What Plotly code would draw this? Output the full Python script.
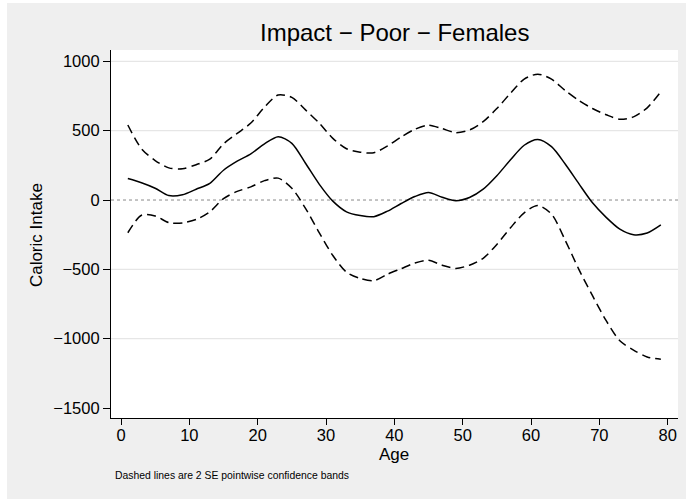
import plotly.graph_objects as go

# ---- data ----
age = [1, 3, 5, 7, 9, 11, 13, 15, 17, 19, 21, 23, 25, 27, 29, 31, 33, 35, 37, 39,
       41, 43, 45, 47, 49, 51, 53, 55, 57, 59, 61, 63, 65, 67, 69, 71, 73, 75, 77, 79]

estimate = [155, 125, 85, 32, 38, 78, 120, 215, 280, 333, 405, 457, 409, 265, 115, -8,
            -85, -112, -120, -80, -25, 25, 55, 20, -5, 18, 78, 175, 290, 395,
            437, 385, 260, 118, -20, -125, -210, -250, -238, -180]

upper = [541, 370, 285, 232, 225, 255, 295, 405, 480, 555, 670, 758, 740, 650, 555, 445,
         370, 345, 341, 390, 455, 510, 540, 515, 486, 505, 565, 660, 770, 872,
         908, 872, 790, 718, 660, 615, 582, 600, 665, 781]

lower = [-236, -110, -115, -163, -165, -140, -85, 10, 62, 95, 140, 158, 85, -60, -235,
         -400, -520, -565, -582, -535, -495, -455, -435, -470, -493, -470, -420, -320,
         -200, -92, -40, -102, -290, -500, -690, -870, -1015, -1082, -1132, -1149]

x_ticks = [0, 10, 20, 30, 40, 50, 60, 70, 80]
y_ticks = [-1500, -1000, -500, 0, 500, 1000]
y_tick_labels = ["\u22121500", "\u22121000", "\u2212500", "0", "500", "1000"]
grid_values = [1000, 500, -500, -1000]

title_text = "Impact \u2212 Poor \u2212 Females"
x_title = "Age"
y_title = "Caloric Intake"
note_text = "Dashed lines are 2 SE pointwise confidence bands"

FONT = "Liberation Sans, Arial, Helvetica, sans-serif"
BG = "#efefef"

fig = go.Figure()

dash_line = dict(color="black", width=1.5, dash="9px,5px", shape="spline", smoothing=0.8)
fig.add_trace(go.Scatter(x=age, y=upper, mode="lines", line=dash_line,
                         hoverinfo="skip", showlegend=False))
fig.add_trace(go.Scatter(x=age, y=lower, mode="lines", line=dash_line,
                         hoverinfo="skip", showlegend=False))
fig.add_trace(go.Scatter(x=age, y=estimate, mode="lines",
                         line=dict(color="black", width=1.5, shape="spline", smoothing=0.8),
                         hoverinfo="skip", showlegend=False))

shapes = []
for g in grid_values:
    shapes.append(dict(type="line", xref="paper", yref="y", x0=0, x1=1, y0=g, y1=g,
                       line=dict(color="#e6e6e6", width=1.2), layer="below"))
shapes.append(dict(type="line", xref="paper", yref="y", x0=0, x1=1, y0=0, y1=0,
                   line=dict(color="#8a8a8a", width=1, dash="dot"), layer="below"))
# thin white border at left and top of the graph region
shapes.append(dict(type="rect", xref="paper", yref="paper", x0=-0.2, x1=-0.1834,
                   y0=-0.25, y1=1.2, line=dict(width=0), fillcolor="white", layer="below"))
shapes.append(dict(type="rect", xref="paper", yref="paper", x0=-0.2, x1=1.05,
                   y0=1.1277, y1=1.2, line=dict(width=0), fillcolor="white", layer="below"))

annotations = [
    dict(text=title_text, xref="paper", yref="paper", x=0.5004, y=1.0462,
         xanchor="center", yanchor="middle", showarrow=False,
         font=dict(family=FONT, size=24, color="black")),
    dict(text=y_title, xref="paper", yref="paper", x=-0.1323, y=0.497,
         xanchor="center", yanchor="middle", showarrow=False, textangle=-90,
         font=dict(family=FONT, size=17, color="black")),
    dict(text=x_title, xref="paper", yref="paper", x=0.4991, y=-0.0995,
         xanchor="center", yanchor="middle", showarrow=False,
         font=dict(family=FONT, size=17, color="black")),
    dict(text=note_text, xref="paper", yref="paper", x=0.0035, y=-0.1568,
         xanchor="left", yanchor="middle", showarrow=False,
         font=dict(family=FONT, size=10.4, color="black")),
]

fig.update_layout(
    width=686, height=499,
    margin=dict(l=111, r=8, t=50, b=81, pad=0),
    paper_bgcolor=BG, plot_bgcolor="white",
    font=dict(family=FONT, color="black"),
    shapes=shapes, annotations=annotations,
    showlegend=False,
    xaxis=dict(range=[-1.463, 81.51], tickvals=x_ticks, ticktext=[str(t) for t in x_ticks],
               showgrid=False, zeroline=False, showline=True, linecolor="black", linewidth=1.2,
               ticks="outside", ticklen=6, tickwidth=1.2, tickcolor="black",
               ticklabelstandoff=-4,
               tickfont=dict(family=FONT, size=16.5, color="black")),
    yaxis=dict(range=[-1572, 1082], tickvals=y_ticks, ticktext=y_tick_labels,
               showgrid=False, zeroline=False, showline=True, linecolor="black", linewidth=1.2,
               ticks="outside", ticklen=7, tickwidth=1.2, tickcolor="black",
               tickfont=dict(family=FONT, size=16.5, color="black")),
)

fig.write_html("out.html", config={"displayModeBar": False},
               post_script="document.body.style.margin='0';document.body.style.overflow='hidden';")
